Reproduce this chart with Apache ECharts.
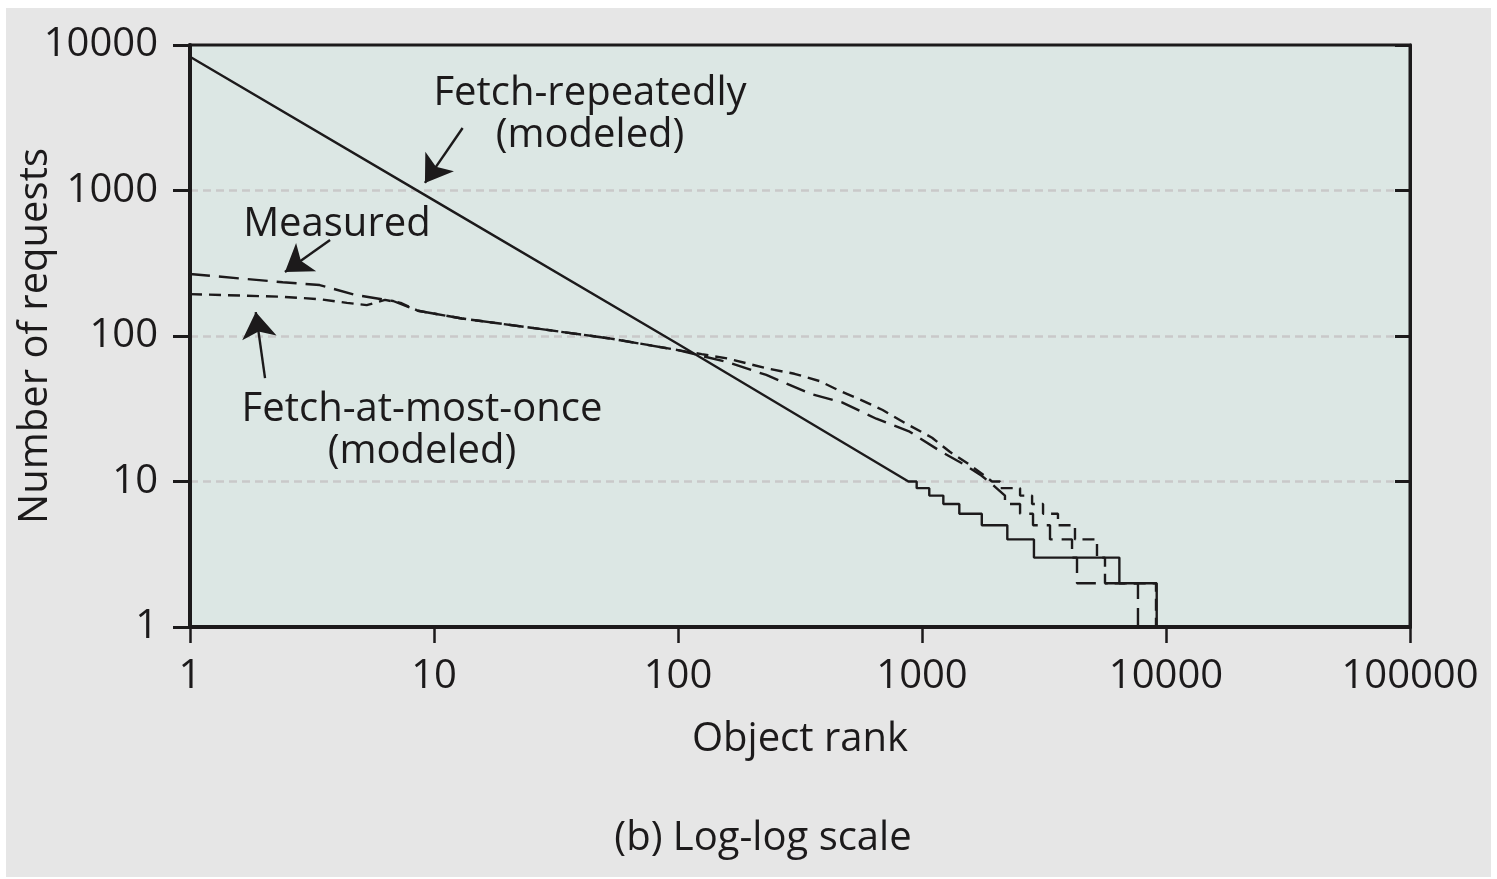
<!DOCTYPE html>
<html><head><meta charset="utf-8">
<script src="https://cdn.jsdelivr.net/npm/echarts@6/dist/echarts.min.js"></script>
<style>
html,body{margin:0;padding:0;background:#ffffff;width:1497px;height:879px;overflow:hidden;}
#chart{position:absolute;left:6px;top:8px;width:1485px;height:869px;background:#e6e6e6;}
</style></head><body><div id="chart"></div>
<script>
// ---- tick labels ----
const xTickLabels = ['1', '10', '100', '1000', '10000', '100000'];
const yTickLabels = ['1', '10', '100', '1000', '10000'];

// ---- Fetch-repeatedly (modeled) : solid ----
const repRank  = [1, 10, 100, 880, 951, 951, 1071, 1071, 1223, 1223, 1422, 1422, 1758, 1758, 2237, 2237, 2876, 2876, 6440, 6440, 9160, 9160];
const repCount = [8300, 855, 88, 10, 10, 9, 9, 8, 8, 7, 7, 6, 6, 5, 5, 4, 4, 3, 3, 2, 2, 1];

// ---- Measured : long dash ----
const measRank  = [1, 2.4, 3.4, 4.8, 6.8, 8.6, 13, 25, 53, 100, 125, 160, 230, 350, 470, 650, 890, 1200, 1500, 1750, 1950, 2188, 2188, 2523, 2523, 2851, 2851, 3347, 3347, 4120, 4120, 4318, 4318, 7676, 7676];
const measCount = [267, 234, 224, 191, 174, 149, 132, 114, 96, 80, 73, 66, 54, 40, 35, 27, 22, 16, 13, 11, 9.5, 8, 7, 7, 6, 6, 5, 5, 4, 4, 3, 3, 2, 2, 1];

// ---- Fetch-at-most-once (modeled) : short dash ----
const famoRank  = [1, 2.4, 3.4, 4.4, 5.3, 6.3, 7.3, 8.6, 13, 25, 53, 100, 125, 160, 230, 300, 380, 460, 570, 690, 860, 1100, 1300, 1570, 1800, 1936, 2089, 2089, 2523, 2523, 2826, 2826, 3134, 3134, 3608, 3608, 4236, 4236, 5214, 5214, 5623, 5623, 9100, 9100];
const famoCount = [194, 186, 179, 169, 163, 177, 169, 149, 132, 114, 96, 80, 75, 70, 60, 55, 49, 42, 36, 31, 25, 20, 16, 13, 11, 10, 10, 9, 9, 8, 8, 7, 7, 6, 6, 5, 5, 4, 4, 3, 3, 2, 2, 1];

const pairs = (xs, ys) => xs.map((x, i) => [x, ys[i]]);

const FONT = '"Open Sans"';
const INK = '#1c1a1b';

// annotation anchors (data space)
const annotations = [
  { text: 'Fetch-repeatedly\n(modeled)', at: [43.6, 3303], from: [13.1, 2690], to: [9.18, 1127] },
  { text: 'Measured', at: [4.0, 579], from: [3.75, 457], to: [2.45, 275] },
  { text: 'Fetch-at-most-once\n(modeled)', at: [8.93, 22.2], from: [2.03, 51.4], to: [1.86, 146] }
];

const chart = echarts.init(document.getElementById('chart'), null, { renderer: 'canvas' });

const tickLabelStyle = { fontFamily: FONT, fontSize: 40, color: INK };

chart.setOption({
  animation: false,
  backgroundColor: 'transparent',
  grid: {
    left: 184, top: 37, width: 1220, height: 582,
    outerBoundsMode: 'none', containLabel: false,
    show: true, backgroundColor: '#dce7e4', borderColor: '#1c1a1b', borderWidth: 3
  },
  xAxis: {
    type: 'log', logBase: 10, min: 1, max: 100000,
    name: 'Object rank', nameLocation: 'middle', nameGap: 93, nameMoveOverlap: false,
    nameTextStyle: { fontFamily: FONT, fontSize: 40, color: INK },
    axisLine: { show: true, lineStyle: { color: '#1c1a1b', width: 4 } },
    axisTick: { show: true, inside: false, length: 16, lineStyle: { color: '#1c1a1b', width: 2.5 } },
    minorTick: { show: false },
    axisLabel: Object.assign({ margin: 30, showMinLabel: true, showMaxLabel: true,
      formatter: v => xTickLabels[Math.round(Math.log10(v))] }, tickLabelStyle),
    splitLine: { show: false }
  },
  yAxis: [{
    type: 'log', logBase: 10, min: 1, max: 10000,
    name: 'Number of requests', nameLocation: 'middle', nameGap: 134, nameMoveOverlap: false,
    nameTextStyle: { fontFamily: FONT, fontSize: 40, color: INK },
    axisLine: { show: true, lineStyle: { color: '#1c1a1b', width: 4 } },
    axisTick: { show: true, inside: false, length: 17, lineStyle: { color: '#1c1a1b', width: 3 } },
    axisLabel: Object.assign({ margin: 32, showMinLabel: true, showMaxLabel: true,
      formatter: v => yTickLabels[Math.round(Math.log10(v))] }, tickLabelStyle),
    splitLine: { show: true, showMinLine: false, showMaxLine: false,
      lineStyle: { color: '#c9c9c9', width: 2.5, type: [8, 5] } }
  }, {
    type: 'log', logBase: 10, min: 1, max: 10000, position: 'right',
    axisLine: { show: true, lineStyle: { color: '#1c1a1b', width: 3 } },
    axisTick: { show: true, inside: true, length: 15, lineStyle: { color: '#1c1a1b', width: 3 } },
    axisLabel: { show: false },
    splitLine: { show: false }
  }],
  series: [
    {
      name: 'Fetch-repeatedly (modeled)', type: 'line', data: pairs(repRank, repCount),
      showSymbol: false, symbol: 'none', clip: true, z: 5,
      lineStyle: { color: '#1c1a1b', width: 2.4, type: 'solid' },
      markPoint: {
        silent: true, symbol: 'circle', symbolSize: 0,
        data: annotations.map(a => ({
          coord: a.at,
          label: { show: true, position: 'inside', formatter: a.text, fontFamily: FONT, fontSize: 40,
                   lineHeight: 42, color: INK, align: 'center', verticalAlign: 'middle' }
        }))
      },
      markLine: {
        silent: true, symbol: ['none', 'arrow'], symbolSize: 26,
        label: { show: false },
        lineStyle: { color: '#1c1a1b', width: 2.4, type: 'solid' },
        data: annotations.map(a => [{ coord: a.from }, { coord: a.to }])
      }
    },
    {
      name: 'Measured', type: 'line', data: pairs(measRank, measCount),
      showSymbol: false, symbol: 'none', clip: true, z: 4,
      lineStyle: { color: '#1c1a1b', width: 2.4, type: [20, 9] }
    },
    {
      name: 'Fetch-at-most-once (modeled)', type: 'line', data: pairs(famoRank, famoCount),
      showSymbol: false, symbol: 'none', clip: true, z: 4,
      lineStyle: { color: '#1c1a1b', width: 2.4, type: [12, 7] }
    }
  ],
  graphic: [{
    type: 'text', x: 757, y: 831,
    style: { text: '(b) Log-log scale', font: '40px "Open Sans"', fill: INK, textAlign: 'center', textVerticalAlign: 'middle' }
  }]
});
</script></body></html>
